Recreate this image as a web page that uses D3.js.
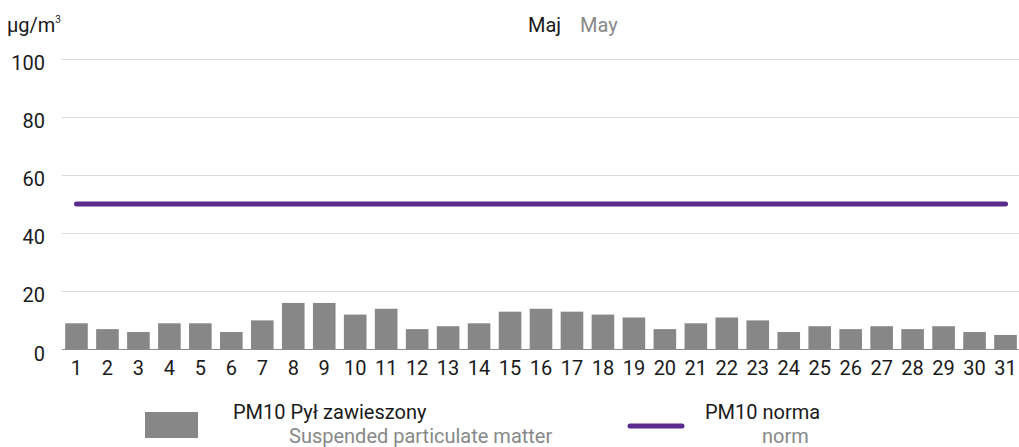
<!DOCTYPE html>
<html>
<head>
<meta charset="utf-8">
<script src="https://cdn.jsdelivr.net/npm/d3@7"></script>
<style>
  html, body { margin: 0; padding: 0; background: #fff; }
  svg { display: block; font-family: Roboto, "Noto Sans", sans-serif; }
</style>
</head>
<body>
<svg id="chart" width="1019" height="447"></svg>
<script>
// Daily PM10 concentrations for May (µg/m³)
const days = d3.range(1, 32).map(String);
const pm10 = [9, 7, 6, 9, 9, 6, 10, 16, 16, 12, 14, 7, 8, 9, 13, 14, 13, 12, 11, 7,
              9, 11, 10, 6, 8, 7, 8, 7, 8, 6, 5];
const normValue = 50;
const yTicks = [0, 20, 40, 60, 80, 100];

const svg = d3.select("#chart");
const W = 1019;
const FS = 20;
const DARK = "#1a1a1a";
const GREY_TXT = "#888888";
const BAR = "#878787";
const NORM = "#5a2a8c";

const x = d3.scaleBand().domain(days).range([61, 1021]).paddingInner(0.27).paddingOuter(0.135);
const y = d3.scaleLinear().domain([0, 100]).range([349.5, 58.5]);

// horizontal gridlines
svg.append("g").selectAll("line").data(yTicks.filter(d => d > 0)).join("line")
  .attr("x1", 62).attr("x2", W)
  .attr("y1", d => Math.round(y(d)) + 0.5).attr("y2", d => Math.round(y(d)) + 0.5)
  .attr("stroke", "#dcdcdc").attr("stroke-width", 1);

// y tick labels
svg.append("g").selectAll("text").data(yTicks).join("text")
  .attr("x", 45).attr("y", d => y(d) + 11)
  .attr("text-anchor", "end").attr("font-size", FS).attr("fill", DARK)
  .text(d => d);

// unit label
const unit = svg.append("text").attr("x", 7).attr("y", 32).attr("font-size", FS).attr("fill", DARK);
unit.append("tspan").text("µg/m");
unit.append("tspan").attr("font-size", 10).attr("dy", -9).text("3");

// title
svg.append("text").attr("x", 528).attr("y", 32).attr("font-size", FS).attr("fill", DARK).text("Maj");
svg.append("text").attr("x", 580).attr("y", 32).attr("font-size", FS).attr("fill", GREY_TXT).text("May");

// bars
svg.append("g").selectAll("rect").data(pm10).join("rect")
  .attr("x", (d, i) => x(days[i]))
  .attr("width", x.bandwidth())
  .attr("y", d => y(d))
  .attr("height", d => y(0) - y(d))
  .attr("fill", BAR);

// baseline
svg.append("line").attr("x1", 62).attr("x2", W)
  .attr("y1", 349.5).attr("y2", 349.5).attr("stroke", "#8c8c8c").attr("stroke-width", 1);

// x tick labels
svg.append("g").selectAll("text").data(days).join("text")
  .attr("x", d => x(d) + x.bandwidth() / 2).attr("y", 375)
  .attr("text-anchor", "middle").attr("font-size", FS).attr("fill", DARK)
  .text(d => d);

// norm line
svg.append("line")
  .attr("x1", x(days[0]) + x.bandwidth() / 2)
  .attr("x2", x(days[days.length - 1]) + x.bandwidth() / 2)
  .attr("y1", y(normValue)).attr("y2", y(normValue))
  .attr("stroke", NORM).attr("stroke-width", 5).attr("stroke-linecap", "round");

// legend
svg.append("rect").attr("x", 145).attr("y", 412).attr("width", 53).attr("height", 26).attr("fill", BAR);
svg.append("text").attr("x", 233).attr("y", 419).attr("font-size", FS).attr("fill", DARK).text("PM10 Pył zawieszony");
svg.append("text").attr("x", 289).attr("y", 443).attr("font-size", FS).attr("fill", GREY_TXT).text("Suspended particulate matter");

svg.append("line").attr("x1", 630).attr("x2", 682).attr("y1", 426).attr("y2", 426)
  .attr("stroke", NORM).attr("stroke-width", 5).attr("stroke-linecap", "round");
svg.append("text").attr("x", 705).attr("y", 419).attr("font-size", FS).attr("fill", DARK).text("PM10 norma");
svg.append("text").attr("x", 762).attr("y", 443).attr("font-size", FS).attr("fill", GREY_TXT).text("norm");
</script>
</body>
</html>
